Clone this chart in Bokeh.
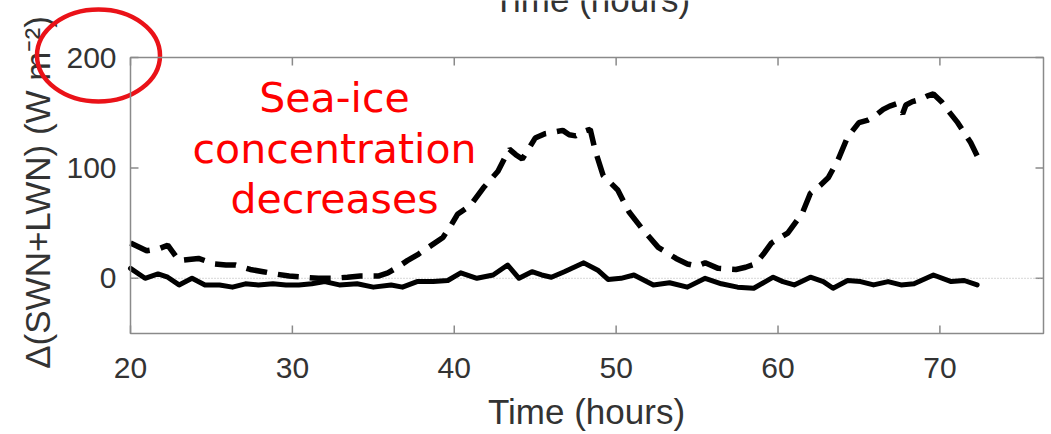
import numpy as np
from bokeh.plotting import figure
from bokeh.models import Range1d, BoxAnnotation
from bokeh.core.properties import value
from bokeh.embed import file_html
from bokeh.resources import INLINE

# ---------------- data ----------------
x_ticks = [20, 30, 40, 50, 60, 70]
x_tick_labels = ["20", "30", "40", "50", "60", "70"]
y_ticks = [0, 100, 200]
y_tick_labels = ["0", "100", "200"]
x_limits = [20, 76.4]
y_limits = [-50, 200]

time_dashed = [20.0, 21.0, 21.8, 22.3, 23.0, 23.6, 24.2, 25.2, 25.9, 26.5,
               27.4, 28.2, 28.9, 29.8, 30.7, 31.6, 32.5, 33.4, 34.2, 35.3,
               35.9, 36.5, 37.1, 37.8, 38.4, 39.3, 39.8, 40.2, 41.0, 41.8,
               42.7, 43.4, 43.8, 44.2, 45.0, 45.6, 46.0, 46.7, 47.1, 47.5,
               48.0, 48.4, 48.7, 49.2, 50.1, 50.8, 51.6, 52.6, 53.7, 54.4,
               55.0, 55.5, 56.3, 57.4, 58.0, 58.6, 59.1, 59.6, 60.6, 61.5,
               62.0, 62.6, 63.1, 63.7, 64.3, 65.0, 65.5, 65.9, 66.5, 66.9,
               67.3, 67.7, 67.9, 68.3, 68.8, 69.2, 69.6, 70.1, 70.5, 71.1,
               71.5, 71.9, 72.3]
flux_dashed = [32, 25, 27, 30, 16, 17, 18, 13, 12, 12,
               8, 6, 4, 2, 1, 0, 0, 1, 2, 2,
               5, 10, 16, 22, 28, 37, 48, 58, 66, 82,
               97, 117, 112, 108, 127, 131, 132, 134, 130, 129,
               133, 135, 116, 93, 80, 60, 45, 28, 18, 13,
               11, 14, 9, 8, 10, 13, 22, 32, 41, 59,
               77, 84, 91, 107, 128, 141, 143, 146, 153, 156,
               158, 149, 157, 160, 162, 165, 167, 160, 152, 141,
               132, 123, 111]

time_solid = [20.0, 20.9, 21.7, 22.3, 23.0, 23.8, 24.6, 25.5, 26.3, 27.1,
              27.9, 28.8, 29.6, 30.4, 31.2, 32.0, 32.9, 34.0, 35.0, 36.1,
              36.8, 37.7, 38.7, 39.6, 40.4, 41.4, 42.4, 43.3, 44.0, 44.8,
              45.4, 46.0, 46.8, 48.0, 48.9, 49.5, 50.3, 51.1, 52.3, 53.3,
              54.4, 55.5, 56.5, 57.5, 58.5, 59.7, 60.3, 61.0, 62.0, 62.8,
              63.4, 64.3, 65.1, 65.9, 66.8, 67.6, 68.4, 69.6, 70.7, 71.5,
              72.3]
flux_solid = [9, 0, 4, 1, -6, 0, -6, -6, -8, -5,
              -6, -5, -6, -6, -5, -3, -6, -5, -8, -6,
              -8, -3, -3, -2, 5, 0, 3, 12, 0, 6,
              3, 1, 6, 14, 7, -1, 0, 3, -6, -4,
              -8, 0, -5, -8, -9, 1, -3, -6, 1, -3,
              -9, -2, -3, -6, -3, -6, -5, 3, -3, -2,
              -6]

x_label = "Time (hours)"
y_label = "\u0394(SWN+LWN) (W m\u207b\u00b2)"
annotation_lines = ["Sea-ice", "concentration", "decreases"]

# ---------------- layout (pixel geometry of the axes box) ----------------
W, H = 1051, 434
PX_L, PX_R, PX_T, PX_B = 130, 1043, 57, 333
sx = (PX_R - PX_L) / (x_limits[1] - x_limits[0])
sy = (PX_B - PX_T) / (y_limits[1] - y_limits[0])


def px2x(px):
    return x_limits[0] + (px - PX_L) / sx


def px2y(py):
    return y_limits[0] + (PX_B - py) / sy


AX = "#8a8a8a"
TXT = "#333333"
FONT = "Liberation Sans"

p = figure(width=W, height=H, output_backend="svg", toolbar_location=None,
           x_range=Range1d(px2x(0), px2x(W)), y_range=Range1d(px2y(H), px2y(0)),
           min_border=0, x_axis_location=None, y_axis_location=None)
p.grid.visible = False
p.outline_line_color = None
p.background_fill_color = "white"
p.border_fill_color = "white"

# axes box
p.add_layout(BoxAnnotation(left=x_limits[0], right=x_limits[1],
                           bottom=y_limits[0], top=y_limits[1],
                           fill_alpha=0, line_color=AX, line_width=1.5,
                           line_alpha=1))

# inward ticks on all four sides
nx, ny = len(x_ticks), len(y_ticks)
tick_kw = dict(length=8, length_units="screen", angle_units="deg",
               line_color=AX, line_width=1.5)
p.ray(x=x_ticks, y=[y_limits[0]] * nx, angle=90, **tick_kw)
p.ray(x=x_ticks, y=[y_limits[1]] * nx, angle=-90, **tick_kw)
p.ray(x=[x_limits[0]] * ny, y=y_ticks, angle=0, **tick_kw)
p.ray(x=[x_limits[1]] * ny, y=y_ticks, angle=180, **tick_kw)

# tick labels
p.text(x=x_ticks, y=[px2y(367)] * nx, text=x_tick_labels,
       text_align="center", text_baseline="middle",
       text_font=value(FONT), text_font_size="30px", text_color=TXT)
p.text(x=[px2x(116)] * ny, y=y_ticks, text=y_tick_labels,
       text_align="right", text_baseline="middle",
       text_font=value(FONT), text_font_size="30px", text_color=TXT)

# axis labels
p.text(x=[px2x(586)], y=[px2y(411)], text=[x_label], text_align="center",
       text_baseline="middle", text_font=value(FONT), text_font_size="35px",
       text_color=TXT)
p.text(x=[px2x(37)], y=[px2y(192)], text=[y_label], angle=90,
       angle_units="deg", text_align="center", text_baseline="middle",
       text_font=value(FONT), text_font_size="35px", text_color=TXT)

# axis label of the panel above, cut off by the top edge as in the source
p.text(x=[px2x(591)], y=[px2y(-1)], text=[x_label], text_align="center",
       text_baseline="middle", text_font=value(FONT),
       text_font_size="35px", text_color=TXT)

# zero reference line (dotted)
p.segment(x0=[x_limits[0]], y0=[0], x1=[x_limits[1]], y1=[0],
          line_color="#b0b0b0", line_width=1, line_dash="1 2")

# series
p.line(time_dashed, flux_dashed, line_color="black", line_width=5.5,
       line_dash="21 11")
p.line(time_solid, flux_solid, line_color="black", line_width=5,
       line_join="round", line_cap="round")

# red annotation text
p.text(x=[px2x(334)] * 3, y=[px2y(97), px2y(148), px2y(198)],
       text=annotation_lines, text_align="center", text_baseline="middle",
       text_color="#ff0000", text_font=value("DejaVu Sans"),
       text_font_size="41px")

# red circle around the 200 tick label
p.ellipse(x=[px2x(98)], y=[px2y(55)], width=123, height=92,
          width_units="screen", height_units="screen", fill_alpha=0,
          line_color="#ea1218", line_width=4.5)

open("out.html", "w").write(file_html(p, INLINE))
